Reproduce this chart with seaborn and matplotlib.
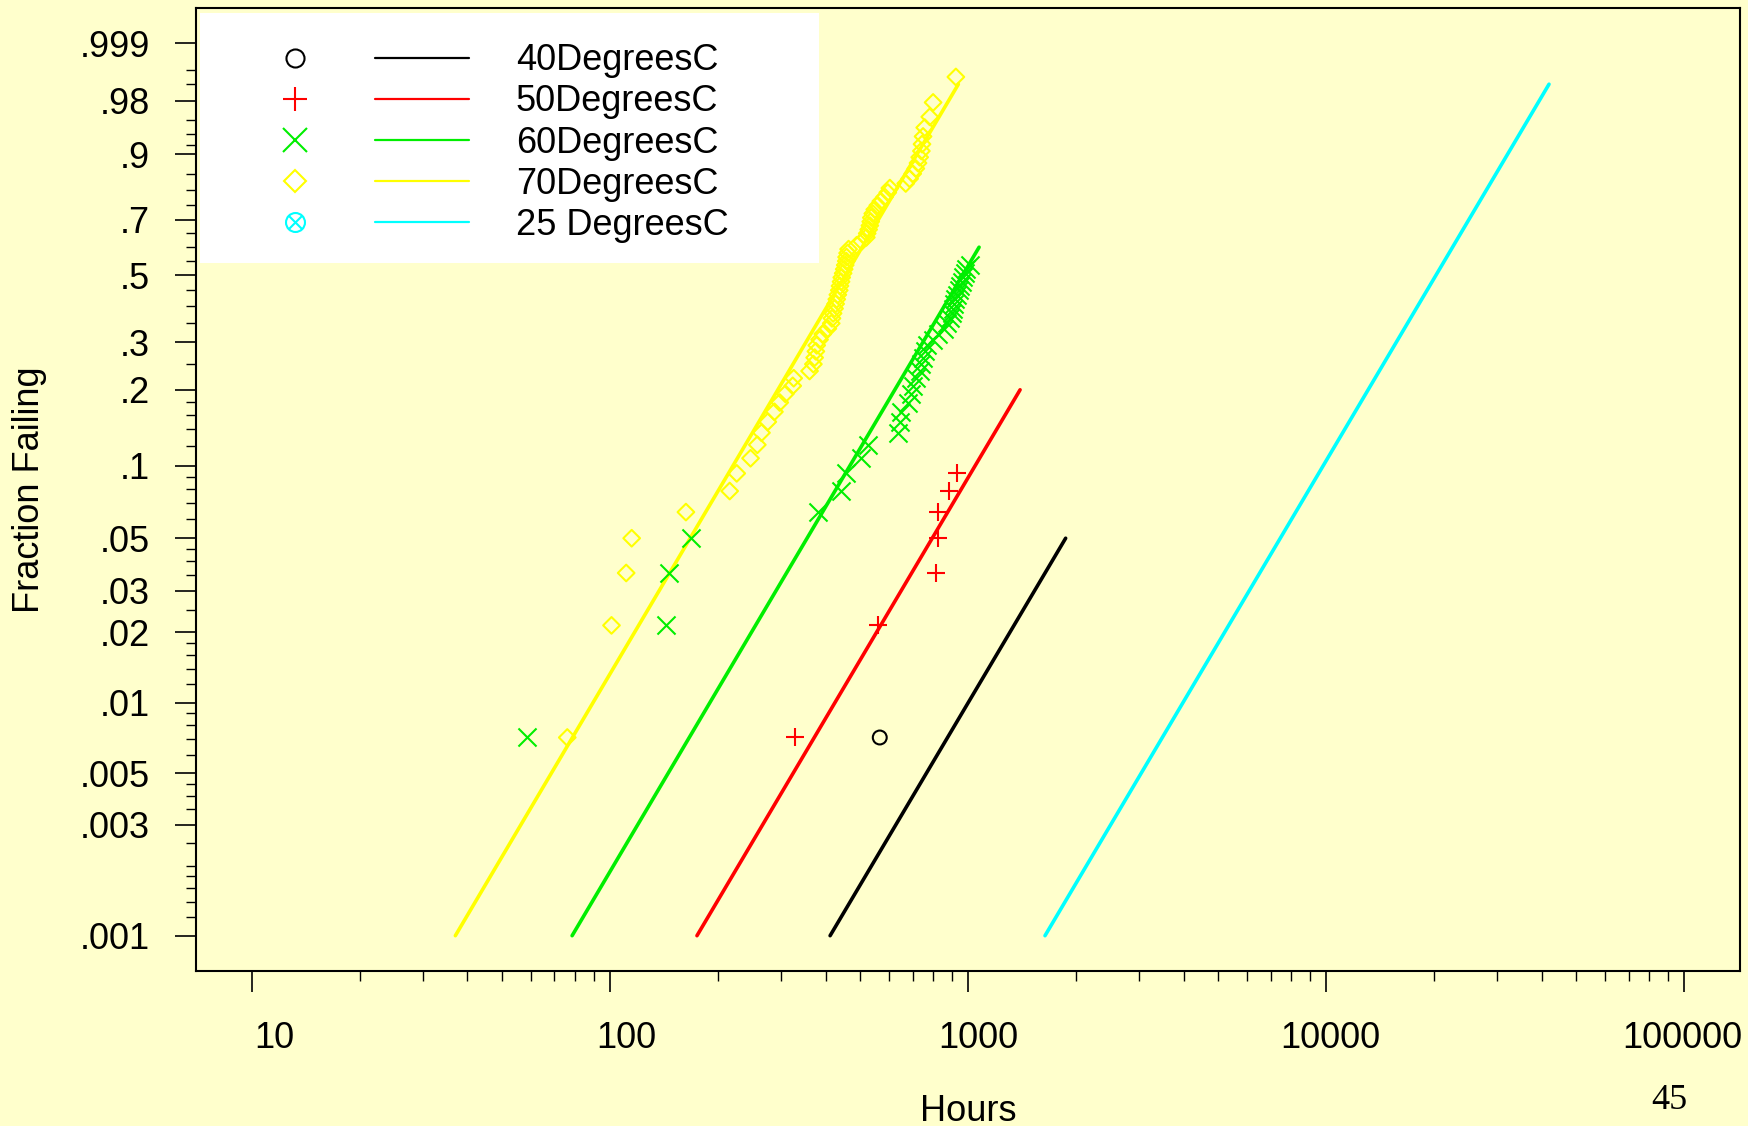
import numpy as np
import pandas as pd
import seaborn as sns
import matplotlib
matplotlib.use("Agg")
import matplotlib.pyplot as plt
import matplotlib.transforms as mtransforms
from matplotlib.lines import Line2D
from matplotlib.legend_handler import HandlerTuple
from matplotlib.patches import Rectangle
from matplotlib.path import Path
from matplotlib.ticker import FixedLocator, FixedFormatter, NullFormatter

# ---- data (hours, fraction failing) ----
hours_70C = [76, 101, 111, 115, 163, 216, 226, 247, 258, 265,
             276, 288, 298, 309, 324, 326, 361, 370, 373, 376,
             378, 385, 393, 406, 415, 417, 420, 424, 427, 430,
             433, 437, 439, 442, 444, 448, 451, 454, 457, 458,
             461, 464, 489, 505, 520, 523, 528, 532, 535, 537,
             542, 549, 560, 571, 585, 597, 605, 670, 687, 701,
             715, 725, 733, 741, 744, 749, 757, 782, 799, 925]
frac_70C = [.0071, .0214, .0357, .0500, .0643, .0786, .0929, .1071, .1214, .1357,
            .1500, .1643, .1786, .1929, .2071, .2214, .2357, .2500, .2643, .2786,
            .2929, .3071, .3214, .3357, .3500, .3643, .3786, .3929, .4071, .4214,
            .4357, .4500, .4643, .4786, .4929, .5071, .5214, .5357, .5500, .5643,
            .5786, .5929, .6071, .6214, .6357, .6500, .6643, .6786, .6929, .7071,
            .7214, .7357, .7500, .7643, .7786, .7929, .8071, .8214, .8357, .8500,
            .8643, .8786, .8929, .9071, .9214, .9357, .9500, .9643, .9786, .9929]

hours_60C = [58.5, 143.5, 146, 168, 382, 441, 455, 504, 526, 638,
             645, 652, 680, 695, 702, 718, 733, 741, 749, 757,
             766, 797, 823, 856, 872, 889, 901, 907, 913, 919,
             931, 943, 949, 961, 967, 980, 986, 1012]
frac_60C = [.0071, .0214, .0357, .0500, .0643, .0786, .0929, .1071, .1214, .1357,
            .1500, .1643, .1786, .1929, .2071, .2214, .2357, .2500, .2643, .2786,
            .2929, .3071, .3214, .3357, .3500, .3643, .3786, .3929, .4071, .4214,
            .4357, .4500, .4643, .4786, .4929, .5071, .5214, .5357]

hours_50C = [329, 561, 813, 822, 822, 886, 932]
frac_50C = [.0071, .0214, .0357, .0500, .0643, .0786, .0929]

hours_40C = [567]
frac_40C = [.0071]

# fitted Weibull lines (end points)
fit_hours = {"40": [412, 1874], "50": [175, 1398], "60": [78.4, 1074],
             "70": [37.0, 940], "25": [1641, 41960]}
fit_frac = {"40": [0.001, 0.05], "50": [0.001, 0.20], "60": [0.001, 0.60],
            "70": [0.001, 0.990], "25": [0.001, 0.990]}

legend_keys = ["40", "50", "60", "70", "25"]
legend_labels = ["40DegreesC", "50DegreesC", "60DegreesC", "70DegreesC", "25 DegreesC"]

x_major = [10, 100, 1000, 10000, 100000]
x_labels = ["10", "100", "1000", "10000", "100000"]
x_minor = [m * d for d in [10, 100, 1000, 10000] for m in range(2, 10)]
y_major = [.001, .003, .005, .01, .02, .03, .05, .1, .2, .3, .5, .7, .9, .98, .999]
y_labels = [".001", ".003", ".005", ".01", ".02", ".03", ".05", ".1", ".2", ".3",
            ".5", ".7", ".9", ".98", ".999"]
y_minor = [.0012, .0014, .0016, .0018, .002, .0025, .0035, .004, .0045, .006, .007,
           .008, .009, .012, .014, .016, .018, .025, .035, .04, .045, .06, .07, .08,
           .09, .12, .14, .16, .18, .25, .35, .4, .45, .55, .6, .65, .75, .8, .85,
           .92, .94, .96, .99, .995]

BG = "#FFFFCC"
colors = {"40": "black", "50": "#FF0000", "60": "#00EE00", "70": "#FFFF00", "25": "#00FFFF"}


def weibull_fwd(p):
    p = np.clip(np.asarray(p, dtype=float), 1e-12, 1 - 1e-15)
    return np.log(-np.log1p(-p))


def weibull_inv(w):
    return -np.expm1(-np.exp(np.asarray(w, dtype=float)))


# circle with an x inside (25 DegreesC legend symbol)
r = np.sqrt(0.5)
cross = Path([(-r, -r), (r, r), (-r, r), (r, -r)],
             [Path.MOVETO, Path.LINETO, Path.MOVETO, Path.LINETO])
circle_x = Path.make_compound_path(Path.unit_circle(), cross)

markers = {"40": ("o", 10, True), "50": ("+", 13, False), "60": ("x", 13, False),
           "70": ("D", 8.5, True), "25": (circle_x, 10.5, True)}

points = pd.concat([
    pd.DataFrame({"hours": hours_40C, "frac": frac_40C, "temp": "40"}),
    pd.DataFrame({"hours": hours_50C, "frac": frac_50C, "temp": "50"}),
    pd.DataFrame({"hours": hours_60C, "frac": frac_60C, "temp": "60"}),
    pd.DataFrame({"hours": hours_70C, "frac": frac_70C, "temp": "70"}),
], ignore_index=True)

sns.set_theme(style="ticks")
plt.rcParams["font.family"] = ["Liberation Sans", "DejaVu Sans"]
plt.rcParams["text.color"] = "black"
plt.rcParams["axes.labelcolor"] = "black"
plt.rcParams["xtick.color"] = "black"
plt.rcParams["ytick.color"] = "black"

fig = plt.figure(figsize=(17.48, 11.26), dpi=100, facecolor=BG)
ax = fig.add_axes([0.11213, 0.13766, 0.88330, 0.85497])
ax.set_facecolor(BG)

for key in ["70", "60", "50", "40", "25"]:
    sns.lineplot(x=fit_hours[key], y=fit_frac[key], color=colors[key], lw=2.6,
                 ax=ax, legend=False, zorder=2)

for key in ["70", "60", "50", "40"]:
    sub = points[points["temp"] == key]
    mk, ms, hollow = markers[key]
    kw = dict(facecolor="none", edgecolor=colors[key]) if hollow else {}
    sns.scatterplot(data=sub, x="hours", y="frac", marker=mk, s=ms ** 2,
                    color=colors[key], linewidth=1.5, ax=ax, legend=False,
                    zorder=3, **kw)

ax.set_xscale("log")
ax.set_yscale("function", functions=(weibull_fwd, weibull_inv))
ax.set_xlim(6.98, 143300)
ax.set_ylim(weibull_inv(-7.257), weibull_inv(2.279))

ax.xaxis.set_major_locator(FixedLocator(x_major))
ax.xaxis.set_major_formatter(FixedFormatter(x_labels))
ax.xaxis.set_minor_locator(FixedLocator(x_minor))
ax.xaxis.set_minor_formatter(NullFormatter())
ax.yaxis.set_major_locator(FixedLocator(y_major))
ax.yaxis.set_major_formatter(FixedFormatter(y_labels))
ax.yaxis.set_minor_locator(FixedLocator(y_minor))
ax.yaxis.set_minor_formatter(NullFormatter())

ax.tick_params(which="major", direction="out", length=15, width=1.2, labelsize=26)
ax.tick_params(which="minor", direction="out", length=7.5, width=1.0)
ax.tick_params(axis="x", which="major", pad=21)
ax.tick_params(axis="y", which="major", pad=18)
for s in ax.spines.values():
    s.set_color("black")
    s.set_linewidth(1.5)

ax.set_xlabel("Hours", fontsize=26)
ax.xaxis.label.set_va("baseline")
ax.xaxis.set_label_coords(0.5, -0.1558)
ax.set_ylabel("Fraction Failing", fontsize=26)
ax.yaxis.label.set_va("baseline")
ax.yaxis.set_label_coords(-0.1014, 0.5)

# legend on a white panel
ax.add_patch(Rectangle((0.0026, 0.7354), 0.4009, 0.2597, transform=ax.transAxes,
                       facecolor="white", edgecolor="none", zorder=1.5))
handles = []
for key in legend_keys:
    mk, ms, hollow = markers[key]
    sym = Line2D([], [], linestyle="None", marker=mk, markersize=ms * 1.3, color=colors[key],
                 markerfacecolor="none" if hollow else colors[key],
                 markeredgecolor=colors[key], markeredgewidth=1.5)
    seg = Line2D([], [], color=colors[key], lw=1.6)
    handles.append((sym, seg))
ax.legend(handles, legend_labels, handler_map={tuple: HandlerTuple(ndivide=None, pad=0.91)},
          loc="upper left", bbox_to_anchor=(0.0337, 0.9636), borderaxespad=0, borderpad=0,
          frameon=False, handlelength=6.12, handletextpad=1.3, labelspacing=0.17,
          fontsize=26)

fig.text(0.9548, 0.0151, "45", family=["Liberation Serif", "DejaVu Serif"], fontsize=26,
         ha="center", va="baseline")

fig.canvas.draw()
for tick in ax.xaxis.get_major_ticks():
    txt = tick.label1.get_text()
    dx = (34 - 6 * len(txt)) / fig.dpi
    tick.label1.set_transform(tick.label1.get_transform()
                              + mtransforms.ScaledTranslation(dx, 0, fig.dpi_scale_trans))

fig.savefig("out.png", dpi=100, facecolor=BG)
